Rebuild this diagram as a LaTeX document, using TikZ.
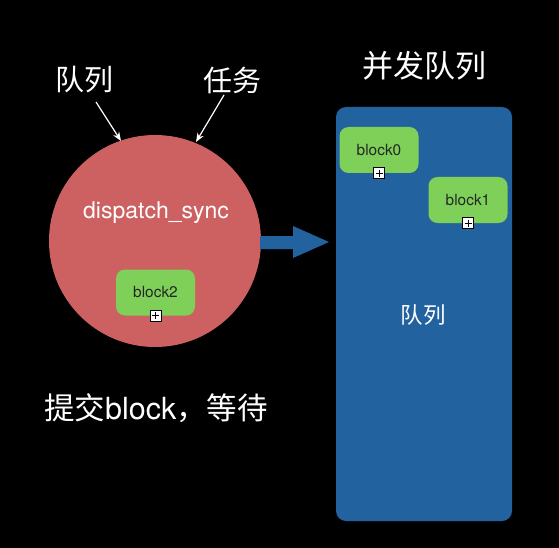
\documentclass[tikz,border=0pt]{standalone}
\usepackage{fontspec}
\setmainfont{TeX Gyre Heros}
\newfontfamily\cjk{Noto Sans CJK SC}
\usetikzlibrary{arrows.meta}
\definecolor{queuered}{RGB}{205,97,97}
\definecolor{queueblue}{RGB}{34,98,158}
\definecolor{blockgreen}{RGB}{126,208,88}
\begin{document}
\begin{tikzpicture}[x=1pt,y=-1pt,
  label/.style={text=white,font=\cjk\fontsize{29}{31}\selectfont,inner sep=0pt},
  block/.style={fill=blockgreen,rounded corners=9pt,minimum width=79pt,minimum height=46pt,
    text=black!85,font=\fontsize{15.4}{17}\selectfont},
  plusbox/.style={draw=black,fill=white,line width=0.7pt,minimum size=11pt,inner sep=0pt,
    path picture={\draw[line width=0.9pt] (path picture bounding box.north)++(0,-2pt) -- ([yshift=2pt]path picture bounding box.south)
      (path picture bounding box.west)++(2pt,0) -- ([xshift=-2pt]path picture bounding box.east);}},
  pointer/.style={draw=white,line width=1.2pt,-{Stealth[length=9pt,width=7pt]}}]
  \fill[black] (0,0) rectangle (559,548);
  \useasboundingbox (0,0) rectangle (559,548);
  % queue and sync call
  \fill[queuered] (155,241) circle (106) coordinate (sync);
  \fill[queueblue,rounded corners=10pt] (336,107) rectangle (512,521);
  \path (156,213) node[text=white,font=\fontsize{23}{25}\selectfont] (call) {dispatch\_sync};
  \path (423,315) node[text=white,font=\cjk\fontsize{22.5}{24}\selectfont] (inner) {队列};
  % blocks
  \path (379,150) node[block] (b0) {block0};
  \path (468,200) node[block] (b1) {block1};
  \path (155.5,292.5) node[block] (b2) {block2};
  \path (b0.south) node[plusbox] (p0) {};
  \path (b1.south) node[plusbox] (p1) {};
  \path (b2.south) node[plusbox] (p2) {};
  % labels
  \path (84,80) node[label] (lqueue) {队列};
  \path (232,80) node[label] (ltask) {任务};
  \path (424,66) node[label,font=\cjk\fontsize{31}{33}\selectfont] (lconc) {并发队列};
  \path (156,408) node[label,font=\cjk\fontsize{30.5}{32}\selectfont] (lwait) {提交\fontspec{TeX Gyre Heros}block\cjk，等待};
  \coordinate (qend) at (121,141);
  \coordinate (tend) at (196,142);
  \draw[pointer] (96,102) -- (qend);
  \draw[pointer] (224,95) -- (tend);
  % big arrow
  \fill[queueblue] (260,236) -- (293,236) -- (293,226) -- (329,242) -- (293,258) -- (293,249) -- (260,249) -- cycle;
\end{tikzpicture}
\end{document}
